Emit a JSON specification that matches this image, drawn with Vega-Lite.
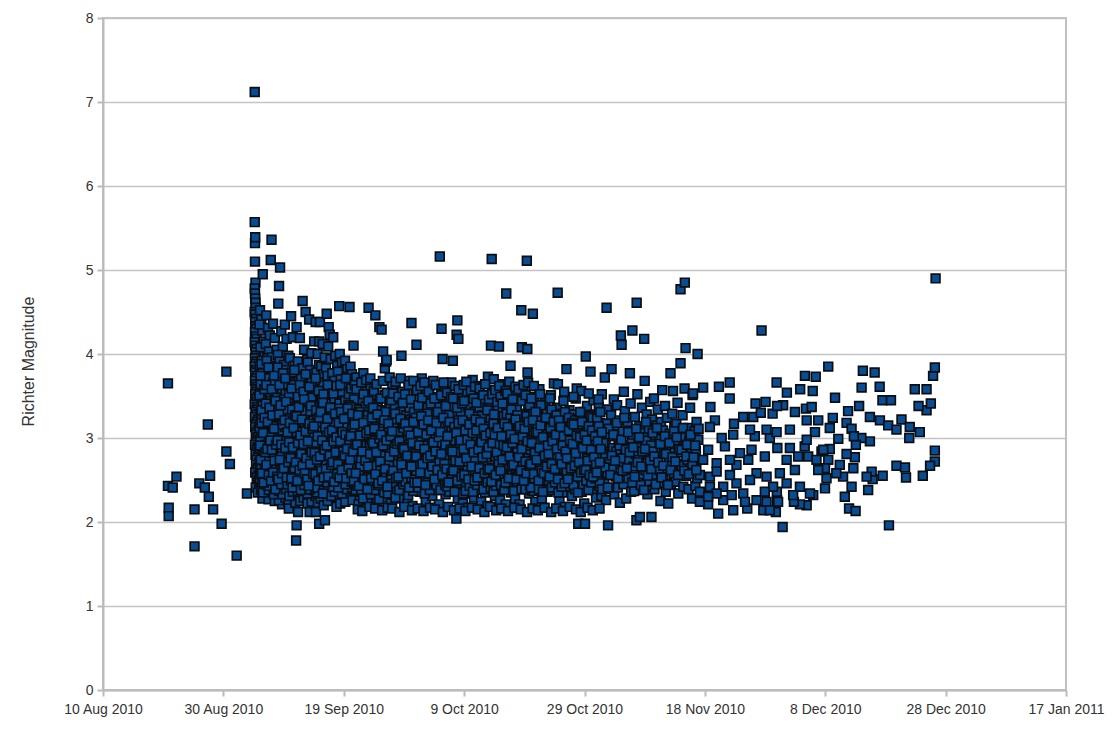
{
"$schema": "https://vega.github.io/schema/vega-lite/v6.json",
"width": 963,
"height": 672,
"autosize": {"type": "none"},
"padding": {"left": 103, "top": 18, "right": 54, "bottom": 50},
"background": "white",
"config": {"view": {"stroke": "#c0c0c0", "strokeWidth": 2}, "font": "Liberation Sans"},
"data": {
"values": "t,m\n10082019,3.65\n10082019,2.43\n10082022,2.17\n10082022,2.07\n10082114,2.41\n10082205,2.54\n10082505,2.15\n10082505,1.71\n10082600,2.46\n10082622,2.41\n10082710,3.16\n10082714,2.30\n10082719,2.55\n10082807,2.15\n10082917,1.98\n10083012,3.79\n10083012,2.84\n10083102,2.69\n10090105,1.60\n10090222,2.34\n10090405,7.12\n10090405,5.57\n10090406,5.32\n10090407,5.39\n10090406,5.10\n10090408,4.85\n10090405,4.78\n10090406,4.72\n10090407,4.66\n10090408,4.61\n10090409,4.55\n10090405,4.50\n10090406,4.47\n10090410,4.42\n10090407,4.38\n10090408,4.33\n10090411,4.30\n10090406,4.26\n10090409,4.21\n10090412,4.18\n10090405,4.14\n10090407,4.10\n10090413,4.06\n10090408,4.02\n10090410,3.98\n10090406,3.95\n10090414,3.91\n10090409,3.88\n10090405,3.85\n10090411,3.81\n10090407,3.78\n10090415,3.74\n10090412,3.71\n10090406,3.68\n10090408,3.64\n10090416,3.61\n10090410,3.58\n10090413,3.55\n10090407,3.52\n10090417,3.49\n10090409,3.46\n10090411,3.43\n10090405,3.40\n10090414,3.37\n10090418,3.34\n10090408,3.31\n10090412,3.28\n10090406,3.25\n10090419,3.22\n10090415,3.19\n10090410,3.16\n10090407,3.13\n10090420,3.10\n10090413,3.07\n10090409,3.04\n10090416,3.01\n10090421,2.98\n10090411,2.95\n10090406,2.92\n10090417,2.89\n10090414,2.86\n10090422,2.83\n10090408,2.80\n10090418,2.77\n10090412,2.74\n10090423,2.71\n10090410,2.68\n10090419,2.65\n10090415,2.62\n10090407,2.59\n10090420,2.56\n10090413,2.53\n10090421,2.50\n10090416,2.47\n10090422,2.44\n10090409,2.41\n10090423,2.38\n10090417,2.35\n10090513,4.95\n10090502,4.52\n10090507,4.41\n10090511,4.28\n10090500,4.35\n10090516,4.15\n10090504,4.08\n10090520,3.97\n10090509,3.92\n10090501,3.86\n10090514,3.81\n10090522,3.74\n10090506,3.69\n10090518,3.63\n10090503,3.58\n10090512,3.52\n10090508,3.47\n10090523,3.41\n10090515,3.36\n10090505,3.30\n10090519,3.26\n10090510,3.21\n10090502,3.15\n10090517,3.10\n10090521,3.04\n10090507,2.99\n10090513,2.93\n10090500,2.88\n10090511,2.82\n10090516,2.77\n10090504,2.71\n10090520,2.66\n10090509,2.60\n10090514,2.55\n10090501,2.49\n10090518,2.44\n10090506,2.38\n10090522,2.33\n10090512,2.28\n10090621,5.12\n10090603,4.46\n10090610,4.31\n10090617,4.22\n10090601,4.12\n10090614,4.03\n10090607,3.95\n10090622,3.88\n10090605,3.79\n10090612,3.71\n10090619,3.66\n10090600,3.57\n10090609,3.50\n10090615,3.43\n10090604,3.37\n10090620,3.31\n10090611,3.24\n10090602,3.17\n10090616,3.12\n10090608,3.05\n10090623,2.97\n10090613,2.91\n10090606,2.84\n10090618,2.78\n10090603,2.71\n10090610,2.65\n10090621,2.58\n10090614,2.51\n10090600,2.45\n10090608,2.39\n10090617,2.32\n10090612,2.27\n10090700,5.36\n10090706,4.36\n10090713,4.19\n10090720,4.05\n10090702,3.96\n10090709,3.84\n10090716,3.76\n10090723,3.68\n10090704,3.61\n10090711,3.54\n10090718,3.46\n10090701,3.39\n10090708,3.33\n10090715,3.26\n10090721,3.19\n10090705,3.13\n10090712,3.06\n10090719,3.00\n10090703,2.94\n10090710,2.87\n10090717,2.80\n10090722,2.74\n10090707,2.68\n10090714,2.61\n10090700,2.55\n10090709,2.48\n10090719,2.42\n10090704,2.36\n10090713,2.25\n10090810,5.03\n10090806,4.81\n10090803,4.60\n10090815,4.27\n10090821,4.09\n10090801,3.99\n10090808,3.91\n10090818,3.82\n10090812,3.70\n10090804,3.63\n10090823,3.55\n10090814,3.47\n10090807,3.40\n10090819,3.33\n10090802,3.27\n10090811,3.20\n10090816,3.14\n10090822,3.07\n10090805,3.01\n10090813,2.95\n10090820,2.89\n10090809,2.82\n10090800,2.76\n10090817,2.69\n10090806,2.63\n10090812,2.56\n10090821,2.50\n10090803,2.43\n10090815,2.37\n10090810,2.30\n10090818,2.21\n10090805,2.26\n10090905,4.35\n10090912,4.18\n10090919,3.98\n10090902,3.87\n10090909,3.79\n10090916,3.69\n10090922,3.58\n10090906,3.49\n10090913,3.41\n10090900,3.33\n10090910,3.24\n10090917,3.16\n10090903,3.08\n10090921,2.99\n10090908,2.92\n10090914,2.84\n10090901,2.75\n10090911,2.67\n10090918,2.59\n10090904,2.51\n10090915,2.44\n10090923,2.37\n10090907,2.29\n10090920,2.24\n10090921,2.16\n10091006,4.45\n10091013,4.20\n10091001,3.95\n10091020,3.86\n10091008,3.74\n10091015,3.66\n10091003,3.56\n10091022,3.47\n10091010,3.39\n10091017,3.30\n10091005,3.22\n10091012,3.13\n10091019,3.05\n10091000,2.97\n10091009,2.88\n10091014,2.80\n10091021,2.71\n10091004,2.63\n10091011,2.55\n10091018,2.46\n10091002,2.38\n10091016,2.31\n10091023,2.23\n10091104,4.32\n10091117,4.19\n10091109,3.91\n10091101,3.80\n10091113,3.72\n10091121,3.62\n10091106,3.53\n10091115,3.44\n10091123,3.35\n10091103,3.27\n10091111,3.18\n10091119,3.10\n10091107,3.01\n10091116,2.93\n10091100,2.85\n10091112,2.76\n10091120,2.68\n10091105,2.59\n10091114,2.50\n10091122,2.42\n10091108,2.33\n10091118,2.25\n10091104,1.96\n10091102,1.78\n10091110,2.12\n10091204,4.63\n10091216,4.50\n10091210,4.05\n10091222,3.93\n10091202,3.83\n10091213,3.74\n10091207,3.65\n10091219,3.57\n10091200,3.48\n10091211,3.40\n10091217,3.31\n10091205,3.23\n10091221,3.14\n10091209,3.05\n10091214,2.97\n10091203,2.88\n10091220,2.79\n10091212,2.71\n10091206,2.62\n10091218,2.54\n10091201,2.45\n10091215,2.37\n10091208,2.29\n10091223,2.22\n10091306,4.41\n10091315,4.01\n10091300,3.90\n10091310,3.81\n10091320,3.70\n10091304,3.60\n10091313,3.52\n10091322,3.43\n10091307,3.35\n10091317,3.26\n10091302,3.18\n10091311,3.09\n10091319,3.00\n10091305,2.92\n10091314,2.83\n10091323,2.74\n10091309,2.66\n10091318,2.57\n10091303,2.49\n10091312,2.40\n10091321,2.32\n10091316,2.24\n10091308,2.12\n10091408,4.38\n10091402,4.15\n10091416,4.00\n10091421,3.87\n10091411,3.78\n10091405,3.68\n10091414,3.60\n10091423,3.51\n10091409,3.42\n10091418,3.34\n10091401,3.25\n10091412,3.16\n10091420,3.08\n10091406,2.99\n10091415,2.90\n10091403,2.82\n10091410,2.73\n10091419,2.64\n10091400,2.56\n10091413,2.47\n10091422,2.39\n10091407,2.31\n10091417,2.23\n10091422,1.98\n10091409,2.12\n10091422,4.15\n10091501,4.38\n10091512,4.12\n10091520,3.96\n10091506,3.85\n10091515,3.76\n10091503,3.66\n10091510,3.58\n10091522,3.49\n10091508,3.40\n10091517,3.32\n10091500,3.23\n10091513,3.14\n10091519,3.06\n10091505,2.97\n10091511,2.88\n10091521,2.79\n10091502,2.71\n10091514,2.62\n10091523,2.53\n10091509,2.45\n10091518,2.36\n10091504,2.28\n10091516,2.20\n10091521,2.02\n10091604,4.48\n10091612,4.32\n10091616,4.23\n10091610,4.09\n10091620,3.94\n10091601,3.83\n10091607,3.74\n10091622,3.64\n10091614,3.55\n10091603,3.46\n10091618,3.38\n10091609,3.29\n10091623,3.20\n10091605,3.11\n10091615,3.03\n10091600,2.94\n10091611,2.85\n10091619,2.77\n10091606,2.68\n10091621,2.59\n10091613,2.50\n10091602,2.42\n10091617,2.33\n10091608,2.25\n10091706,4.20\n10091714,3.98\n10091722,3.86\n10091702,3.77\n10091710,3.68\n10091718,3.59\n10091704,3.50\n10091712,3.41\n10091720,3.33\n10091700,3.24\n10091708,3.15\n10091716,3.07\n10091723,2.98\n10091705,2.89\n10091713,2.80\n10091721,2.72\n10091703,2.63\n10091711,2.55\n10091719,2.46\n10091707,2.38\n10091715,2.30\n10091719,2.18\n10091806,4.57\n10091808,4.00\n10091817,3.90\n10091801,3.79\n10091812,3.70\n10091821,3.61\n10091804,3.52\n10091814,3.43\n10091823,3.34\n10091809,3.25\n10091819,3.17\n10091802,3.08\n10091811,2.99\n10091816,2.91\n10091800,2.82\n10091807,2.73\n10091815,2.64\n10091822,2.56\n10091805,2.47\n10091813,2.39\n10091820,2.30\n10091810,2.22\n10091923,4.56\n10091905,3.92\n10091914,3.82\n10091919,3.73\n10091902,3.64\n10091910,3.55\n10091917,3.46\n10091900,3.37\n10091908,3.28\n10091915,3.20\n10091921,3.11\n10091904,3.02\n10091912,2.93\n10091919,2.85\n10091907,2.76\n10091916,2.67\n10091922,2.59\n10091901,2.50\n10091911,2.41\n10091918,2.33\n10091906,2.24\n10092015,4.10\n10092022,3.67\n10092003,3.85\n10092009,3.76\n10092018,3.58\n10092001,3.49\n10092012,3.40\n10092020,3.31\n10092006,3.22\n10092014,3.14\n10092023,3.05\n10092004,2.96\n10092010,2.88\n10092017,2.79\n10092002,2.70\n10092013,2.61\n10092021,2.53\n10092007,2.44\n10092016,2.35\n10092011,2.26\n10092102,3.72\n10092107,3.18\n10092110,2.64\n10092113,2.95\n10092116,2.31\n10092119,3.44\n10092121,2.78\n10092123,2.49\n10092105,3.05\n10092111,2.21\n10092206,3.77\n10092201,3.35\n10092204,2.58\n10092209,2.88\n10092212,2.37\n10092215,3.12\n10092218,2.69\n10092220,3.58\n10092222,2.26\n10092214,2.97\n10092303,4.55\n10092300,2.83\n10092305,3.27\n10092308,2.45\n10092311,3.61\n10092314,2.72\n10092317,3.02\n10092319,2.33\n10092322,2.92\n10092313,3.48\n10092406,4.46\n10092422,4.32\n10092402,2.61\n10092404,3.15\n10092409,2.89\n10092412,2.24\n10092415,3.39\n10092418,2.76\n10092420,3.05\n10092423,2.52\n10092507,4.29\n10092513,4.03\n10092520,3.83\n10092501,2.95\n10092503,2.41\n10092510,3.22\n10092516,2.68\n10092518,3.51\n10092522,2.29\n10092505,2.84\n10092601,3.91\n10092603,3.93\n10092606,2.72\n10092609,3.08\n10092612,2.47\n10092614,3.36\n10092617,2.91\n10092620,2.22\n10092623,3.19\n10092611,2.63\n10092702,3.64\n10092705,2.87\n10092708,3.29\n10092711,2.55\n10092713,2.98\n10092716,2.34\n10092719,3.47\n10092721,2.69\n10092723,3.11\n10092707,2.43\n10092814,3.98\n10092801,2.77\n10092804,3.25\n10092807,2.51\n10092810,3.03\n10092812,2.28\n10092817,3.55\n10092820,2.84\n10092822,2.63\n10092809,3.38\n10092902,3.41\n10092905,2.66\n10092908,2.95\n10092911,2.37\n10092913,3.18\n10092916,2.81\n10092918,3.68\n10092921,2.49\n10092923,3.06\n10092914,2.23\n10093006,4.37\n10093001,3.12\n10093003,2.58\n10093009,2.87\n10093012,3.33\n10093015,2.44\n10093017,3.01\n10093019,2.71\n10093022,3.57\n10093010,2.19\n10100102,4.11\n10100100,2.92\n10100105,3.24\n10100108,2.53\n10100111,2.79\n10100114,3.46\n10100116,2.36\n10100119,3.09\n10100121,2.67\n10100123,3.71\n10100202,2.85\n10100204,3.37\n10100207,2.42\n10100210,3.14\n10100212,2.68\n10100215,2.25\n10100218,3.52\n10100220,2.97\n10100222,2.58\n10100213,3.21\n10100301,3.03\n10100304,2.73\n10100306,3.62\n10100309,2.46\n10100312,3.27\n10100314,2.89\n10100317,2.31\n10100319,3.15\n10100322,2.61\n10100315,3.44\n10100423,5.16\n10100402,2.94\n10100405,3.34\n10100408,2.57\n10100410,3.06\n10100413,2.38\n10100416,3.49\n10100418,2.76\n10100421,3.17\n10100420,2.21\n10100506,4.30\n10100510,3.94\n10100501,2.64\n10100503,3.11\n10100508,2.85\n10100512,2.43\n10100515,3.29\n10100517,2.71\n10100520,3.58\n10100522,2.33\n10100600,3.22\n10100603,2.55\n10100606,2.97\n10100609,3.41\n10100611,2.36\n10100614,2.81\n10100616,3.07\n10100619,2.47\n10100621,3.66\n10100623,2.70\n10100703,3.92\n10100718,4.23\n10100721,4.40\n10100717,2.04\n10100701,2.91\n10100706,3.18\n10100709,2.52\n10100712,2.79\n10100714,3.35\n10100723,2.28\n10100801,4.18\n10100804,2.86\n10100807,3.26\n10100809,2.41\n10100812,2.99\n10100814,2.63\n10100817,3.47\n10100819,2.22\n10100822,3.04\n10100811,2.75\n10100902,3.13\n10100904,2.49\n10100907,2.83\n10100910,3.55\n10100912,2.34\n10100915,2.96\n10100918,3.28\n10100920,2.58\n10100923,2.72\n10100913,2.17\n10101010,3.69\n10101001,2.88\n10101004,3.21\n10101006,2.45\n10101009,2.67\n10101013,3.02\n10101015,2.29\n10101018,3.39\n10101021,2.79\n10101023,3.10\n10101102,2.61\n10101105,3.31\n10101107,2.93\n10101110,2.38\n10101112,3.48\n10101115,2.74\n10101117,3.07\n10101120,2.24\n10101122,2.86\n10101108,3.62\n10101200,3.19\n10101203,2.52\n10101206,2.84\n10101208,3.41\n10101211,2.35\n10101214,2.97\n10101216,3.26\n10101219,2.66\n10101221,2.19\n10101223,3.73\n10101314,5.13\n10101311,4.10\n10101322,3.70\n10101301,2.73\n10101304,3.09\n10101306,2.43\n10101309,3.36\n10101312,2.81\n10101317,2.57\n10101319,3.15\n10101419,4.09\n10101401,2.98\n10101403,2.31\n10101406,3.24\n10101409,2.68\n10101411,3.52\n10101414,2.47\n10101416,2.89\n10101421,3.11\n10101423,2.26\n10101502,3.28\n10101505,2.77\n10101507,2.39\n10101510,3.05\n10101513,3.64\n10101515,2.58\n10101518,2.94\n10101520,3.37\n10101522,2.21\n10101512,2.71\n10101600,4.72\n10101617,3.86\n10101603,2.91\n10101605,3.18\n10101608,2.53\n10101611,2.82\n10101613,3.43\n10101619,2.35\n10101621,3.02\n10101623,2.64\n10101701,3.14\n10101704,2.46\n10101706,2.86\n10101709,3.32\n10101711,2.27\n10101714,2.73\n10101716,3.55\n10101719,2.99\n10101721,2.55\n10101723,3.21\n10101812,4.52\n10101814,4.08\n10101802,2.69\n10101804,3.08\n10101807,2.41\n10101809,2.95\n10101817,3.29\n10101819,2.58\n10101822,3.47\n10101805,2.21\n10101910,5.11\n10101912,4.06\n10101913,3.78\n10101901,2.83\n10101903,3.16\n10101906,2.49\n10101908,2.76\n10101916,3.38\n10101919,2.34\n10101922,2.97\n10102010,4.48\n10102000,3.04\n10102003,2.62\n10102005,3.27\n10102008,2.37\n10102013,2.88\n10102015,3.49\n10102018,2.71\n10102020,2.24\n10102023,3.11\n10102102,2.92\n10102104,3.35\n10102107,2.56\n10102109,2.81\n10102112,3.58\n10102114,2.43\n10102117,3.06\n10102119,2.67\n10102122,2.28\n10102111,3.19\n10102201,3.23\n10102203,2.74\n10102206,2.47\n10102208,3.01\n10102211,3.42\n10102213,2.61\n10102216,2.87\n10102218,3.31\n10102221,2.36\n10102223,2.53\n10102300,2.66\n10102303,3.12\n10102305,2.38\n10102308,2.94\n10102310,3.51\n10102313,2.72\n10102315,3.26\n10102318,2.49\n10102320,2.83\n10102322,3.65\n10102413,4.73\n10102414,3.64\n10102401,2.79\n10102404,3.08\n10102406,2.44\n10102409,2.91\n10102411,3.36\n10102417,2.57\n10102420,2.26\n10102422,3.17\n10102502,3.29\n10102504,2.63\n10102507,2.97\n10102509,2.35\n10102512,3.44\n10102514,2.76\n10102517,2.18\n10102519,3.09\n10102521,2.51\n10102523,2.88\n10102600,3.82\n10102602,2.85\n10102605,3.19\n10102607,2.42\n10102610,2.69\n10102612,3.33\n10102615,2.54\n10102617,2.96\n10102620,3.12\n10102622,2.31\n10102717,3.59\n10102723,1.98\n10102701,3.02\n10102703,2.58\n10102706,3.28\n10102708,2.73\n10102711,2.39\n10102713,3.47\n10102716,2.87\n10102720,2.62\n10102801,2.93\n10102803,3.23\n10102806,2.48\n10102808,2.78\n10102811,3.56\n10102813,2.36\n10102816,3.05\n10102818,2.67\n10102821,3.31\n10102823,2.22\n10102905,3.97\n10102902,1.98\n10102901,3.14\n10102903,2.55\n10102908,2.84\n10102910,3.38\n10102913,2.45\n10102915,2.99\n10102918,2.71\n10102921,3.21\n10103000,3.79\n10103002,2.66\n10103005,3.11\n10103007,2.38\n10103010,2.92\n10103012,3.45\n10103015,2.57\n10103017,2.81\n10103020,3.28\n10103022,2.29\n10103101,3.06\n10103104,2.62\n10103106,2.89\n10103109,3.37\n10103111,2.43\n10103114,3.18\n10103116,2.74\n10103119,2.31\n10103121,3.52\n10103123,2.95\n10110116,4.55\n10110109,3.72\n10110122,1.96\n10110101,2.81\n10110104,3.13\n10110107,2.47\n10110112,2.92\n10110118,3.34\n10110120,2.58\n10110114,2.26\n10110212,3.82\n10110202,2.71\n10110205,3.02\n10110208,2.39\n10110210,3.27\n10110215,2.63\n10110218,2.88\n10110221,3.46\n10110223,2.33\n10110301,3.15\n10110304,2.54\n10110307,2.84\n10110310,3.39\n10110313,2.41\n10110316,2.97\n10110319,3.21\n10110321,2.23\n10110323,2.69\n10110401,4.22\n10110404,4.11\n10110406,2.76\n10110409,3.08\n10110411,2.45\n10110414,2.91\n10110417,3.32\n10110419,2.59\n10110422,2.28\n10110413,3.55\n10110523,4.28\n10110513,3.77\n10110502,2.87\n10110504,3.19\n10110507,2.52\n10110510,2.73\n10110516,3.41\n10110518,2.36\n10110520,2.98\n10110616,4.61\n10110615,2.02\n10110601,3.04\n10110603,2.66\n10110606,2.37\n10110609,3.25\n10110612,2.81\n10110619,3.52\n10110621,2.49\n10110623,2.95\n10110722,4.18\n10110705,2.06\n10110701,2.74\n10110703,3.14\n10110708,2.44\n10110711,2.89\n10110713,3.36\n10110716,2.57\n10110719,3.06\n10110800,3.68\n10110803,2.62\n10110806,2.97\n10110808,3.28\n10110811,2.33\n10110814,2.79\n10110817,3.11\n10110819,2.48\n10110822,3.43\n10110903,2.06\n10110901,2.91\n10110905,3.22\n10110907,2.55\n10110910,2.84\n10110913,3.47\n10110915,2.39\n10110918,3.03\n10110921,2.68\n10110923,3.15\n10111002,2.78\n10111004,3.34\n10111007,2.46\n10111010,3.01\n10111012,2.62\n10111015,2.25\n10111017,3.19\n10111020,2.86\n10111022,3.57\n10111101,3.09\n10111103,2.53\n10111106,2.81\n10111109,3.38\n10111112,2.36\n10111114,2.95\n10111117,3.24\n10111119,2.64\n10111122,2.22\n10111207,3.77\n10111217,3.56\n10111201,2.71\n10111204,3.05\n10111209,2.45\n10111212,2.88\n10111214,3.29\n10111220,2.57\n10111222,3.13\n10111323,4.77\n10111323,3.89\n10111301,2.93\n10111303,2.48\n10111306,3.17\n10111309,2.69\n10111311,3.42\n10111314,2.34\n10111316,2.83\n10111319,3.06\n10111321,2.59\n10111416,4.85\n10111419,4.07\n10111415,3.59\n10111401,3.01\n10111404,2.67\n10111407,3.27\n10111410,2.42\n10111412,2.89\n10111421,2.55\n10111523,3.51\n10111502,2.74\n10111505,3.12\n10111507,2.39\n10111510,2.96\n10111513,3.36\n10111516,2.61\n10111519,2.84\n10111521,2.28\n10111619,4.00\n10111601,3.53\n10111615,3.19\n10111621,2.98\n10111604,2.66\n10111607,3.08\n10111610,2.43\n10111612,2.85\n10111617,2.52\n10111916,3.21\n10112220,3.17\n10112409,3.25\n10112601,3.25\n10112707,3.30\n10112906,3.29\n10120100,3.39\n10120223,3.31\n10120419,3.35\n10120518,3.37\n10120422,3.21\n10120620,3.21\n10120607,3.07\n10120818,3.12\n10121113,3.18\n10121209,3.11\n10121510,3.25\n10121702,3.21\n10121811,3.15\n10121920,3.10\n10122016,3.22\n10122201,3.13\n10122123,3.00\n10122317,3.07\n10122420,3.33\n10121510,2.96\n10121400,3.00\n10121004,2.99\n10120818,2.87\n10120709,2.84\n10122110,2.53\n10121920,2.67\n10122106,2.65\n10121713,2.55\n10121521,2.51\n10121517,2.60\n10121421,2.54\n10121503,2.38\n10121216,2.64\n10121222,2.77\n10121113,2.81\n10121209,2.42\n10121106,2.30\n10121123,2.16\n10121301,2.13\n10120723,2.40\n10120805,2.52\n10120600,2.32\n10120422,2.20\n10120319,2.21\n10120219,2.24\n10112919,2.12\n10113000,2.26\n10112923,2.36\n10112717,2.14\n10112501,2.16\n10112217,2.14\n10112005,2.10\n10111813,2.21\n10111704,2.24\n10112101,2.26\n10112306,2.46\n10112306,2.68\n10112108,2.90\n10112019,3.00\n10111813,2.86\n10111717,2.74\n10111621,2.98\n10111704,2.56\n10111820,2.54\n10112101,2.42\n10112505,2.74\n10112607,3.02\n10112819,3.00\n10113001,2.88\n10120203,2.88\n10112723,2.78\n10120114,2.74\n10120312,2.78\n10120414,2.90\n10120504,2.78\n10120223,2.62\n10113011,2.58\n10112806,2.54\n10112614,2.58\n10112512,2.50\n10112908,2.42\n10120114,2.46\n10120319,2.42\n10120511,2.34\n10120216,2.32\n10113004,2.24\n10112614,2.26\n10112409,2.34\n10112723,2.36\n10120812,2.74\n10121010,2.68\n10121023,2.54\n10120723,2.64\n10120620,2.62\n10120613,2.74\n10120716,2.86\n10120422,2.98\n10120203,3.10\n10112922,3.07\n10112806,3.10\n10112512,3.10\n10112217,3.04\n10111820,3.13\n10112518,2.86\n10112320,2.82\n10112204,2.74\n10111923,2.70\n10111923,2.60\n10112204,2.56\n10111820,2.42\n10111704,2.36\n10111923,2.34\n10111813,2.30\n10112211,2.32\n10112416,2.24\n10112806,2.24\n10112819,2.14\n10120906,3.24\n10121119,3.32\n10121302,2.92\n10121315,3.38\n10120920,2.58\n10121218,3.02\n10111717,3.60\n10111822,3.37\n10112008,3.61\n10112203,3.66\n10112203,3.47\n10112610,3.41\n10112802,3.43\n10112710,4.28\n10112922,3.66\n10113000,3.38\n10113022,1.94\n10120115,3.54\n10120320,3.58\n10120415,3.74\n10120522,3.56\n10120610,3.73\n10120812,3.85\n10120915,3.48\n10121401,3.60\n10121406,3.80\n10121605,3.78\n10121701,3.61\n10121712,3.45\n10121822,3.45\n10121814,1.96\n10122221,3.58\n10122312,3.38\n10122420,3.58\n10122513,3.41\n10122522,3.74\n10122605,3.84\n10122608,4.90\n10122605,2.85\n10122605,2.72\n10122510,2.67\n10122405,2.55\n10090501,3.12\n10090503,2.57\n10090505,3.64\n10090507,2.41\n10090509,3.28\n10090510,2.86\n10090512,3.77\n10090514,2.35\n10090515,3.02\n10090517,2.69\n10090518,3.45\n10090520,2.52\n10090521,3.19\n10090523,2.78\n10090508,3.88\n10090600,3.21\n10090602,2.62\n10090604,3.56\n10090606,2.44\n10090608,3.34\n10090610,2.93\n10090611,3.71\n10090613,2.38\n10090615,3.09\n10090616,2.73\n10090618,3.48\n10090620,2.55\n10090622,3.16\n10090623,2.81\n10090605,3.92\n10090700,3.07\n10090702,2.49\n10090704,3.43\n10090705,2.77\n10090707,3.66\n10090709,2.33\n10090711,3.22\n10090712,2.91\n10090714,3.81\n10090716,2.58\n10090717,3.36\n10090719,2.71\n10090721,3.01\n10090723,2.44\n10090713,3.55\n10090800,3.26\n10090802,2.68\n10090804,3.49\n10090806,2.37\n10090807,3.13\n10090809,2.85\n10090811,3.72\n10090813,2.46\n10090814,3.02\n10090816,2.79\n10090818,3.58\n10090820,2.33\n10090822,3.18\n10090823,2.62\n10090801,3.84\n10090900,2.95\n10090902,2.43\n10090904,3.37\n10090906,2.71\n10090908,3.55\n10090910,2.39\n10090912,3.12\n10090913,2.88\n10090915,3.64\n10090917,2.52\n10090919,3.25\n10090921,2.66\n10090922,3.02\n10090923,2.31\n10090911,3.81\n10091000,3.31\n10091002,2.61\n10091004,3.08\n10091006,2.47\n10091007,3.52\n10091009,2.79\n10091011,3.19\n10091013,2.36\n10091014,3.63\n10091016,2.92\n10091018,2.54\n10091020,3.44\n10091021,2.85\n10091023,3.01\n10091010,3.78\n10091100,3.14\n10091102,2.58\n10091104,2.86\n10091106,3.41\n10091108,2.37\n10091110,3.06\n10091112,2.69\n10091114,3.58\n10091116,2.45\n10091118,3.22\n10091120,2.91\n10091122,3.71\n10091201,2.94\n10091203,3.36\n10091205,2.51\n10091207,3.17\n10091209,2.73\n10091211,3.62\n10091213,2.41\n10091215,2.99\n10091217,3.44\n10091219,2.63\n10091221,3.09\n10091223,2.34\n10091300,3.28\n10091302,2.62\n10091304,3.05\n10091306,2.44\n10091308,3.49\n10091310,2.81\n10091312,3.13\n10091314,2.55\n10091316,3.67\n10091318,2.97\n10091320,2.38\n10091322,3.21\n10091401,2.87\n10091403,3.31\n10091405,2.49\n10091407,3.02\n10091409,2.66\n10091411,3.54\n10091413,2.35\n10091415,3.18\n10091417,2.78\n10091419,3.43\n10091421,2.59\n10091423,3.09\n10091500,2.91\n10091502,3.44\n10091504,2.57\n10091506,3.11\n10091508,2.72\n10091510,3.29\n10091512,2.42\n10091514,3.63\n10091516,2.84\n10091518,3.05\n10091520,2.48\n10091522,3.34\n10091601,3.16\n10091603,2.61\n10091605,3.48\n10091607,2.39\n10091609,2.93\n10091611,3.25\n10091613,2.76\n10091615,3.59\n10091617,2.52\n10091619,3.07\n10091621,2.31\n10091623,2.85\n10091700,2.96\n10091702,3.38\n10091704,2.54\n10091706,3.12\n10091708,2.69\n10091710,3.47\n10091712,2.36\n10091714,2.88\n10091716,3.26\n10091718,2.61\n10091720,3.04\n10091722,2.43\n10091801,3.21\n10091803,2.64\n10091805,2.97\n10091807,3.41\n10091809,2.48\n10091811,3.13\n10091813,2.79\n10091815,3.55\n10091817,2.34\n10091819,2.91\n10091821,3.28\n10091823,2.57\n10091900,2.83\n10091902,3.19\n10091904,2.51\n10091906,3.44\n10091908,2.68\n10091910,3.06\n10091912,2.39\n10091914,3.31\n10091916,2.94\n10091918,2.59\n10091920,3.52\n10091922,2.77\n10092001,3.08\n10092003,2.56\n10092005,3.33\n10092007,2.83\n10092009,2.41\n10092011,3.17\n10092013,2.92\n10092015,2.62\n10092017,3.46\n10092019,2.72\n10092021,3.01\n10092023,2.38\n10092101,2.87\n10092104,3.21\n10092106,2.43\n10092109,3.34\n10092112,2.71\n10092115,2.95\n10092117,2.52\n10092120,3.08\n10092122,2.36\n10092200,2.62\n10092203,3.03\n10092205,2.28\n10092208,3.27\n10092211,2.79\n10092213,2.48\n10092216,3.38\n10092219,2.91\n10092223,2.57\n10092301,3.16\n10092304,2.54\n10092307,2.89\n10092309,3.41\n10092312,2.33\n10092315,2.68\n10092318,3.11\n10092320,2.46\n10092323,2.99\n10092401,2.93\n10092403,2.38\n10092407,3.24\n10092410,2.67\n10092413,3.02\n10092414,2.49\n10092416,3.36\n10092419,2.83\n10092421,2.27\n10092500,3.09\n10092502,2.61\n10092506,3.33\n10092508,2.44\n10092511,2.86\n10092514,3.18\n10092517,2.35\n10092519,2.97\n10092523,2.74\n10092600,2.56\n10092602,3.27\n10092605,2.88\n10092608,2.34\n10092610,3.12\n10092613,2.69\n10092616,3.39\n10092619,2.51\n10092622,2.93\n10092700,3.21\n10092703,2.46\n10092706,3.05\n10092709,2.77\n10092712,3.36\n10092714,2.29\n10092717,2.91\n10092720,3.14\n10092722,2.58\n10092800,2.69\n10092803,3.08\n10092805,2.38\n10092808,2.94\n10092811,3.31\n10092813,2.57\n10092815,2.82\n10092818,3.17\n10092821,2.45\n10092900,3.13\n10092903,2.83\n10092906,2.48\n10092909,3.27\n10092912,2.61\n10092915,3.02\n10092917,2.32\n10092920,2.89\n10092922,3.36\n10093000,2.76\n10093002,3.22\n10093005,2.53\n10093007,3.07\n10093011,2.89\n10093013,2.37\n10093016,3.31\n10093018,2.64\n10093021,2.98\n10100101,2.61\n10100103,3.11\n10100106,2.86\n10100109,2.41\n10100112,3.32\n10100113,2.73\n10100117,2.98\n10100120,2.47\n10100122,3.19\n10100200,3.06\n10100203,2.52\n10100205,2.91\n10100208,3.29\n10100211,2.34\n10100214,2.78\n10100216,3.13\n10100219,2.63\n10100223,3.36\n10100300,2.47\n10100302,3.18\n10100305,2.83\n10100307,2.38\n10100310,3.06\n10100313,2.64\n10100316,3.31\n10100320,2.92\n10100323,2.55\n10100400,3.23\n10100403,2.68\n10100406,2.99\n10100409,2.44\n10100411,3.37\n10100414,2.81\n10100417,2.57\n10100419,3.09\n10100422,2.86\n10100500,2.97\n10100502,2.38\n10100505,3.21\n10100507,2.66\n10100509,3.02\n10100513,2.54\n10100516,2.88\n10100519,3.13\n10100521,2.44\n10100601,2.88\n10100602,3.31\n10100605,2.42\n10100607,3.14\n10100610,2.77\n10100613,3.38\n10100615,2.55\n10100618,2.96\n10100622,3.08\n10100700,2.63\n10100702,3.27\n10100705,2.85\n10100708,3.04\n10100710,2.36\n10100713,2.97\n10100716,2.59\n10100719,3.21\n10100722,2.74\n10100800,3.14\n10100803,2.53\n10100805,2.94\n10100808,2.68\n10100810,3.32\n10100813,2.46\n10100815,3.09\n10100818,2.81\n10100820,2.34\n10100901,2.69\n10100903,3.04\n10100906,2.37\n10100908,3.19\n10100911,2.92\n10100914,2.62\n10100917,3.37\n10100919,2.81\n10100922,2.43\n10101000,3.27\n10101002,2.56\n10101005,2.94\n10101008,3.12\n10101011,2.36\n10101012,2.79\n10101016,3.31\n10101020,2.58\n10101022,2.99\n10101100,2.73\n10101103,2.97\n10101104,2.44\n10101109,3.17\n10101111,2.82\n10101113,3.36\n10101116,2.54\n10101119,3.03\n10101121,2.67\n10101201,2.89\n10101202,3.27\n10101205,2.39\n10101207,3.06\n10101210,2.71\n10101213,2.52\n10101215,3.14\n10101218,2.93\n10101222,2.47\n10101300,3.02\n10101302,2.58\n10101305,2.86\n10101308,3.24\n10101310,2.41\n10101313,2.69\n10101315,3.33\n10101318,2.93\n10101321,2.36\n10101400,2.64\n10101402,3.17\n10101405,2.78\n10101407,2.43\n10101410,3.08\n10101413,2.92\n10101415,3.35\n10101418,2.56\n10101422,2.84\n10101500,2.97\n10101503,2.44\n10101506,3.14\n10101508,2.62\n10101511,2.86\n10101514,3.26\n10101516,2.38\n10101519,2.73\n10101523,3.09\n10101601,2.72\n10101602,3.29\n10101606,2.46\n10101609,3.08\n10101610,2.63\n10101614,2.95\n10101616,3.24\n10101618,2.57\n10101622,2.81\n10101700,2.59\n10101703,3.06\n10101705,2.83\n10101707,2.37\n10101710,3.18\n10101713,2.64\n10101715,2.96\n10101718,3.34\n10101722,2.48\n10101800,3.11\n10101803,2.54\n10101806,2.83\n10101808,3.22\n10101811,2.66\n10101813,2.39\n10101816,2.97\n10101820,3.06\n10101823,2.73\n10101900,2.64\n10101902,3.08\n10101904,2.39\n10101907,2.93\n10101909,3.26\n10101914,2.57\n10101917,2.79\n10101920,3.13\n10101923,2.44\n10102001,2.86\n10102002,2.41\n10102006,3.16\n10102007,2.73\n10102011,2.98\n10102012,3.32\n10102016,2.52\n10102019,2.91\n10102022,2.65\n10102100,3.13\n10102103,2.62\n10102105,2.87\n10102108,3.24\n10102110,2.39\n10102113,2.96\n10102116,2.71\n10102118,3.39\n10102121,2.54\n10102200,2.84\n10102202,2.36\n10102205,3.09\n10102207,2.68\n10102210,2.93\n10102212,3.18\n10102215,2.52\n10102219,2.77\n10102222,3.04\n10102301,2.94\n10102302,2.49\n10102304,3.21\n10102307,2.63\n10102309,2.86\n10102312,3.34\n10102314,2.41\n10102317,3.02\n10102321,2.57\n10102400,3.06\n10102402,2.47\n10102405,2.76\n10102408,3.27\n10102410,2.62\n10102413,2.98\n10102416,2.35\n10102419,3.12\n10102423,2.69\n10102500,2.81\n10102503,3.17\n10102505,2.42\n10102508,2.72\n10102511,3.06\n10102513,2.53\n10102516,2.94\n10102518,3.31\n10102522,2.61\n10102601,2.59\n10102603,2.97\n10102606,2.73\n10102609,3.24\n10102611,2.48\n10102614,2.85\n10102616,3.08\n10102619,2.62\n10102623,2.91\n10102700,2.77\n10102702,3.12\n10102705,2.44\n10102707,2.97\n10102710,3.21\n10102712,2.63\n10102715,2.86\n10102718,3.07\n10102722,2.35\n10102800,3.16\n10102802,2.63\n10102805,2.86\n10102807,3.31\n10102810,2.52\n10102812,2.79\n10102815,3.02\n10102819,2.45\n10102822,2.97\n10102900,2.68\n10102904,2.91\n10102906,3.19\n10102907,2.49\n10102911,2.76\n10102914,3.05\n10102916,2.38\n10102919,2.87\n10102923,3.26\n10103001,2.93\n10103003,2.47\n10103006,2.75\n10103008,3.24\n10103011,2.61\n10103014,2.98\n10103016,3.07\n10103019,2.52\n10103023,2.84\n10103100,2.79\n10103102,3.23\n10103105,2.53\n10103107,3.04\n10103110,2.87\n10103113,2.46\n10103115,3.31\n10103118,2.68\n10103122,2.39\n10110103,2.94\n10110108,2.65\n10110115,3.17\n10110121,2.41\n10110201,3.11\n10110207,2.56\n10110213,2.79\n10110219,3.04\n10110302,2.73\n10110309,3.18\n10110314,2.52\n10110320,2.91\n10110403,2.98\n10110408,2.61\n10110415,3.24\n10110421,2.86\n10110501,2.64\n10110506,3.07\n10110512,2.83\n10110522,2.47\n10110602,2.89\n10110608,2.54\n10110614,3.11\n10110620,2.71\n10110702,3.01\n10110710,2.66\n10110715,2.84\n10110721,2.38\n10110801,2.87\n10110805,3.19\n10110813,2.55\n10110821,2.73\n10110902,2.63\n10110908,3.06\n10110914,2.78\n10110920,2.45\n10111001,3.12\n10111006,2.71\n10111014,2.93\n10111019,2.53\n10111102,2.67\n10111108,3.02\n10111113,2.81\n10111121,2.44\n10111203,2.94\n10111208,2.62\n10111215,2.77\n10111221,3.08\n10111302,2.72\n10111308,3.01\n10111313,2.56\n10111318,2.87\n10111403,2.86\n10111409,3.12\n10111414,2.61\n10111422,2.78\n10111501,2.92\n10111508,2.57\n10111515,3.04\n10111522,2.69\n10111603,2.77\n10111609,2.91\n10111614,2.62\n10111623,3.11\n10090500,3.51\n10090503,2.96\n10090504,3.74\n10090506,2.63\n10090508,3.18\n10090511,2.47\n10090513,3.39\n10090516,2.84\n10090519,3.58\n10090522,2.69\n10090601,2.92\n10090603,3.63\n10090605,2.54\n10090607,3.27\n10090609,2.76\n10090612,3.84\n10090614,2.43\n10090617,3.02\n10090619,2.61\n10090621,3.44\n10090701,3.58\n10090703,2.82\n10090706,3.14\n10090708,2.52\n10090710,3.74\n10090713,2.96\n10090715,2.39\n10090718,3.29\n10090720,2.63\n10090722,3.48\n10090801,2.94\n10090803,3.36\n10090805,2.52\n10090808,3.63\n10090810,2.71\n10090812,3.09\n10090815,2.45\n10090817,3.44\n10090819,2.88\n10090822,3.77\n10090901,3.46\n10090903,2.62\n10090905,3.13\n10090907,3.71\n10090909,2.57\n10090912,2.98\n10090914,3.33\n10090916,2.45\n10090919,2.79\n10090922,3.52\n10091001,2.73\n10091003,3.24\n10091005,2.49\n10091008,3.59\n10091010,2.94\n10091012,2.41\n10091015,3.36\n10091017,2.67\n10091019,3.81\n10091022,2.58\n10091101,3.36\n10091103,2.48\n10091105,3.07\n10091107,2.74\n10091109,3.49\n10091111,2.55\n10091113,3.21\n10091115,2.82\n10091117,3.63\n10091121,2.38\n10091200,3.07\n10091202,2.56\n10091204,3.32\n10091206,2.83\n10091208,3.55\n10091210,2.44\n10091212,3.19\n10091214,2.68\n10091216,3.76\n10091220,2.49\n10091301,2.53\n10091303,3.14\n10091305,2.76\n10091307,3.61\n10091309,2.39\n10091311,3.32\n10091313,2.87\n10091315,3.48\n10091317,2.61\n10091321,3.03\n10091400,3.39\n10091402,2.68\n10091404,3.12\n10091406,2.41\n10091408,3.71\n10091410,2.92\n10091412,2.53\n10091414,3.27\n10091416,2.84\n10091420,3.56\n10091501,2.66\n10091503,3.19\n10091505,2.49\n10091507,3.46\n10091509,2.81\n10091511,3.08\n10091513,2.34\n10091515,3.52\n10091517,2.75\n10091521,3.27\n10091600,3.41\n10091602,2.72\n10091604,3.06\n10091606,2.47\n10091608,3.63\n10091610,2.86\n10091612,2.58\n10091614,3.19\n10091618,2.64\n10091620,3.33\n10091701,2.78\n10091703,3.26\n10091705,2.42\n10091707,3.53\n10091709,2.94\n10091711,2.63\n10091713,3.17\n10091717,2.87\n10091719,3.62\n10091721,2.51\n10091800,3.03\n10091802,2.41\n10091804,3.35\n10091806,2.86\n10091808,2.58\n10091810,3.63\n10091812,2.92\n10091814,2.67\n10091818,3.19\n10091822,2.76\n10091901,2.97\n10091903,2.64\n10091905,3.26\n10091907,2.45\n10091909,3.71\n10091911,2.88\n10091913,3.13\n10091915,2.56\n10091919,3.39\n10091921,2.71\n10092000,2.91\n10092002,3.37\n10092004,2.67\n10092006,3.59\n10092008,2.48\n10092010,3.11\n10092012,2.78\n10092016,3.24\n10092018,2.57\n10092020,3.63\n10092103,3.58\n10092108,2.15\n10092114,3.31\n10092118,2.66\n10092122,3.66\n10092202,2.13\n10092207,3.52\n10092210,2.81\n10092217,3.69\n10092221,3.21\n10092302,3.44\n10092306,2.18\n10092310,3.71\n10092316,2.97\n10092321,3.36\n10092400,3.56\n10092405,2.16\n10092411,3.64\n10092417,2.44\n10092422,3.28\n10092504,3.47\n10092509,2.14\n10092512,3.68\n10092515,2.79\n10092521,3.31\n10092604,3.54\n10092607,2.17\n10092615,3.72\n10092618,2.82\n10092621,3.45\n10092701,2.16\n10092704,3.53\n10092710,2.89\n10092715,3.67\n10092718,3.22\n10092802,3.49\n10092806,2.12\n10092811,3.71\n10092816,2.71\n10092819,3.42\n10092901,2.18\n10092904,3.52\n10092910,2.77\n10092919,3.63\n10092921,3.19\n10093004,3.46\n10093008,2.14\n10093014,3.68\n10093020,2.82\n10093023,3.24\n10100104,3.57\n10100107,2.16\n10100110,3.39\n10100115,2.68\n10100118,3.62\n10100201,3.48\n10100206,2.13\n10100209,3.66\n10100217,2.84\n10100221,3.29\n10100303,3.55\n10100308,2.17\n10100311,3.41\n10100318,2.74\n10100321,3.68\n10100401,3.47\n10100404,2.15\n10100407,3.63\n10100412,2.92\n10100415,3.31\n10100504,3.51\n10100511,2.12\n10100514,3.66\n10100518,2.79\n10100523,3.38\n10100604,3.54\n10100608,2.18\n10100612,3.27\n10100617,2.69\n10100620,3.49\n10100704,3.47\n10100707,2.14\n10100711,3.62\n10100715,2.83\n10100720,3.36\n10100802,3.58\n10100806,2.16\n10100816,3.41\n10100821,2.72\n10100823,3.63\n10100900,3.44\n10100905,2.13\n10100909,3.67\n10100916,2.88\n10100921,3.29\n10101003,3.56\n10101007,2.17\n10101014,3.47\n10101017,2.73\n10101019,3.61\n10101101,3.42\n10101106,2.15\n10101114,3.59\n10101118,2.91\n10101123,3.26\n10101204,3.51\n10101209,2.12\n10101212,3.64\n10101217,2.77\n10101220,3.33\n10101303,3.46\n10101307,2.18\n10101316,3.52\n10101320,2.64\n10101323,3.28\n10101404,3.57\n10101408,2.14\n10101412,3.43\n10101417,2.74\n10101420,3.62\n10101501,3.49\n10101504,2.16\n10101509,3.41\n10101517,2.91\n10101521,3.56\n10101604,3.53\n10101607,2.13\n10101612,3.67\n10101615,2.76\n10101620,3.34\n10101702,3.46\n10101708,2.17\n10101712,3.61\n10101717,2.82\n10101720,3.27\n10101801,3.58\n10101810,2.15\n10101815,3.44\n10101818,2.67\n10101821,3.63\n10101905,3.51\n10101911,2.12\n10101915,3.66\n10101918,2.91\n10101921,3.39\n10102004,3.47\n10102009,2.16\n10102014,3.62\n10102017,2.84\n10102021,3.31\n10102106,2.14\n10102115,3.52\n10102209,2.17\n10102311,2.12\n10102306,3.47\n10102407,2.16\n10102510,2.13\n10102515,3.55\n10102613,2.18\n10102714,2.15\n10102704,3.49\n10102809,2.12\n10102912,2.17\n10102917,3.53\n10103009,2.14\n10103112,2.16\n10103108,3.46\n10090502,2.91\n10090505,2.74\n10090508,3.33\n10090510,2.58\n10090514,3.06\n10090517,2.47\n10090520,3.24\n10090523,2.83\n10090601,3.41\n10090604,2.68\n10090607,2.87\n10090609,3.19\n10090613,2.56\n10090616,3.36\n10090619,2.97\n10090622,2.49\n10090701,2.86\n10090703,3.27\n10090706,2.59\n10090710,3.11\n10090712,2.73\n10090716,3.44\n10090718,2.92\n10090722,2.54\n10090800,2.97\n10090803,2.51\n10090806,3.28\n10090809,2.74\n10090812,3.39\n10090815,2.92\n10090818,2.58\n10090821,3.16\n10090901,2.64\n10090904,3.21\n10090907,2.88\n10090910,3.43\n10090913,2.53\n10090916,3.07\n10090919,2.71\n10090922,2.95\n10091001,3.18\n10091004,2.76\n10091007,2.52\n10091010,3.34\n10091013,2.89\n10091016,3.12\n10091019,2.64\n10091022,3.27\n10091101,2.71\n10091104,3.26\n10091107,2.49\n10091110,2.94\n10091113,3.37\n10091116,2.62\n10091119,3.03\n10091122,2.81\n10091201,3.22\n10091204,2.67\n10091207,2.93\n10091210,3.46\n10091213,2.58\n10091216,3.08\n10091219,2.76\n10091222,2.51\n10091301,2.96\n10091304,2.43\n10091307,3.17\n10091310,2.69\n10091313,3.38\n10091316,2.83\n10091319,3.11\n10091322,2.57\n10091401,3.14\n10091404,2.82\n10091407,2.57\n10091410,3.33\n10091413,2.74\n10091416,3.02\n10091419,2.49\n10091422,3.24\n10091501,2.78\n10091504,3.31\n10091507,2.61\n10091510,2.97\n10091513,3.42\n10091516,2.53\n10091519,2.86\n10091522,3.13\n10091601,2.63\n10091604,2.91\n10091607,3.23\n10091610,2.54\n10091613,3.07\n10091616,2.79\n10091619,3.36\n10091622,2.68\n10091701,3.09\n10091704,2.71\n10091707,2.96\n10091710,2.48\n10091713,3.29\n10091716,2.83\n10091719,3.01\n10091722,2.57\n10091801,2.69\n10091804,3.18\n10091807,2.53\n10091810,2.96\n10091813,3.31\n10091816,2.62\n10091819,3.07\n10091822,2.84\n10091901,3.23\n10091904,2.79\n10091907,3.04\n10091910,2.52\n10091913,2.87\n10091916,3.35\n10091919,2.66\n10091922,2.98\n10092001,2.74\n10092004,3.02\n10092007,2.58\n10092010,3.29\n10092013,2.84\n10092016,2.49\n10092019,3.16\n10092022,2.93\n10092100,2.58\n10092105,2.92\n10092109,3.27\n10092113,2.43\n10092117,3.03\n10092121,2.76\n10092202,2.84\n10092206,3.18\n10092210,2.51\n10092214,2.73\n10092218,3.06\n10092222,2.39\n10092301,2.66\n10092305,3.09\n10092309,2.81\n10092313,2.52\n10092317,3.24\n10092321,2.94\n10092402,3.11\n10092406,2.57\n10092410,2.83\n10092414,3.28\n10092418,2.46\n10092422,2.99\n10092501,2.72\n10092505,3.04\n10092509,2.49\n10092513,2.91\n10092517,3.21\n10092521,2.63\n10092602,2.97\n10092606,2.42\n10092610,3.17\n10092614,2.78\n10092618,3.02\n10092622,2.56\n10092701,3.08\n10092705,2.61\n10092709,2.84\n10092713,3.29\n10092717,2.52\n10092721,2.93\n10092802,2.54\n10092806,2.96\n10092810,3.23\n10092814,2.68\n10092818,2.89\n10092822,3.12\n10092901,2.87\n10092905,3.17\n10092909,2.58\n10092913,2.79\n10092917,3.08\n10092921,2.41\n10093002,3.03\n10093006,2.66\n10093010,2.94\n10093014,3.19\n10093018,2.47\n10093022,2.81\n10100101,2.78\n10100105,2.47\n10100109,3.07\n10100113,2.91\n10100117,2.59\n10100121,3.26\n10100202,2.69\n10100206,3.16\n10100210,2.87\n10100214,2.44\n10100218,3.04\n10100222,2.76\n10100301,3.21\n10100305,2.58\n10100309,2.79\n10100313,3.09\n10100317,2.66\n10100321,2.95\n10100402,2.51\n10100406,2.84\n10100410,3.18\n10100414,2.62\n10100418,3.01\n10100422,2.73\n10100501,3.07\n10100505,2.81\n10100509,2.56\n10100513,3.24\n10100517,2.69\n10100521,2.92\n10100602,2.63\n10100606,3.02\n10100610,2.47\n10100614,3.19\n10100618,2.86\n10100622,2.58\n10100701,2.84\n10100705,2.61\n10100709,3.13\n10100713,2.73\n10100717,3.06\n10100721,2.49\n10100802,3.18\n10100806,2.72\n10100810,2.97\n10100814,2.54\n10100818,3.21\n10100822,2.87\n10100901,2.56\n10100905,3.09\n10100909,2.76\n10100913,2.98\n10100917,2.51\n10100921,3.16\n10101002,2.92\n10101006,2.66\n10101010,3.06\n10101014,2.83\n10101018,2.49\n10101022,3.22\n10101101,3.09\n10101105,2.53\n10101109,2.86\n10101113,2.64\n10101117,3.19\n10101121,2.95\n10101202,2.77\n10101206,3.11\n10101210,2.58\n10101214,3.03\n10101218,2.81\n10101222,2.62\n10101301,2.89\n10101305,2.63\n10101309,3.06\n10101313,2.48\n10101317,2.94\n10101321,3.17\n10101402,3.04\n10101406,2.56\n10101410,2.83\n10101414,3.12\n10101418,2.69\n10101422,2.93\n10101501,2.61\n10101505,3.02\n10101509,2.74\n10101513,2.91\n10101517,3.17\n10101521,2.47\n10101602,2.89\n10101606,3.13\n10101610,2.52\n10101614,2.78\n10101618,3.04\n10101622,2.66\n10101701,2.94\n10101705,2.68\n10101709,2.99\n10101713,3.22\n10101717,2.51\n10101721,2.83\n10101802,2.77\n10101806,3.14\n10101810,2.61\n10101814,2.87\n10101818,3.02\n10101822,2.49\n10101901,3.11\n10101905,2.72\n10101909,2.58\n10101913,2.96\n10101917,3.19\n10101921,2.67\n10102002,2.69\n10102006,2.94\n10102010,3.21\n10102014,2.57\n10102018,2.82\n10102022,3.06\n10102101,2.74\n10102105,3.07\n10102109,2.49\n10102113,2.88\n10102117,3.15\n10102121,2.61\n10102202,3.01\n10102206,2.58\n10102210,2.79\n10102214,3.24\n10102218,2.66\n10102222,2.91\n10102301,2.81\n10102305,2.54\n10102309,3.12\n10102313,2.69\n10102317,2.96\n10102321,3.19\n10102402,2.63\n10102406,3.04\n10102410,2.87\n10102414,2.51\n10102418,3.21\n10102422,2.77\n10102501,3.13\n10102505,2.69\n10102509,2.91\n10102513,3.02\n10102517,2.46\n10102521,2.84\n10102602,2.76\n10102606,2.51\n10102610,3.09\n10102614,2.97\n10102618,2.64\n10102622,3.18\n10102701,2.93\n10102705,3.16\n10102709,2.67\n10102713,2.82\n10102717,3.03\n10102721,2.54\n10102802,2.71\n10102806,3.01\n10102810,2.59\n10102814,3.19\n10102818,2.88\n10102822,2.62\n10102901,3.04\n10102905,2.62\n10102909,2.97\n10102913,2.73\n10102917,3.14\n10102921,2.56\n10103002,2.86\n10103006,3.09\n10103010,2.54\n10103014,2.77\n10103018,3.02\n10103022,2.68\n10103101,2.59\n10103105,2.96\n10103109,3.14\n10103113,2.71\n10103117,2.87\n10103121,3.07",
"format": {"type": "csv", "parse": {"t": "date:'%y%m%d%H'", "m": "number"}}
},
"mark": {"type": "square", "size": 76, "fill": "#0a4c92", "stroke": "#0b0e13", "strokeWidth": 1.7, "opacity": 1, "fillOpacity": 1},
"encoding": {
"x": {"field": "t", "type": "temporal",
"scale": {"domain": [{"year": 2010, "month": 8, "date": 10}, {"year": 2011, "month": 1, "date": 17}]},
"axis": {"title": null, "grid": false, "format": "%-d %b %Y", "labelOverlap": false, "labelFlush": false,
"values": [{"year": 2010, "month": 8, "date": 10}, {"year": 2010, "month": 8, "date": 30}, {"year": 2010, "month": 9, "date": 19}, {"year": 2010, "month": 10, "date": 9}, {"year": 2010, "month": 10, "date": 29}, {"year": 2010, "month": 11, "date": 18}, {"year": 2010, "month": 12, "date": 8}, {"year": 2010, "month": 12, "date": 28}, {"year": 2011, "month": 1, "date": 17}],
"domainColor": "#bbbbbb", "domainWidth": 2, "tickColor": "#bbbbbb", "tickWidth": 2, "tickSize": 6,
"labelFont": "Liberation Sans", "labelFontSize": 14, "labelColor": "#333333", "labelPadding": 6}},
"y": {"field": "m", "type": "quantitative",
"scale": {"domain": [0, 8], "nice": false},
"axis": {"title": "Richter Magnitude", "values": [0, 1, 2, 3, 4, 5, 6, 7, 8], "grid": true, "gridColor": "#c4c4c4", "gridWidth": 1.5, "labelFlush": false,
"domainColor": "#bbbbbb", "domainWidth": 2, "tickColor": "#bbbbbb", "tickWidth": 2, "tickSize": 6,
"labelFont": "Liberation Sans", "labelFontSize": 14, "labelColor": "#333333", "labelPadding": 4,
"titleFont": "Liberation Sans", "titleFontSize": 16, "titleFontWeight": "normal", "titleColor": "#333333",
"titleX": -75, "titleY": 343, "titleBaseline": "middle", "titleAngle": -90}}
}
}
